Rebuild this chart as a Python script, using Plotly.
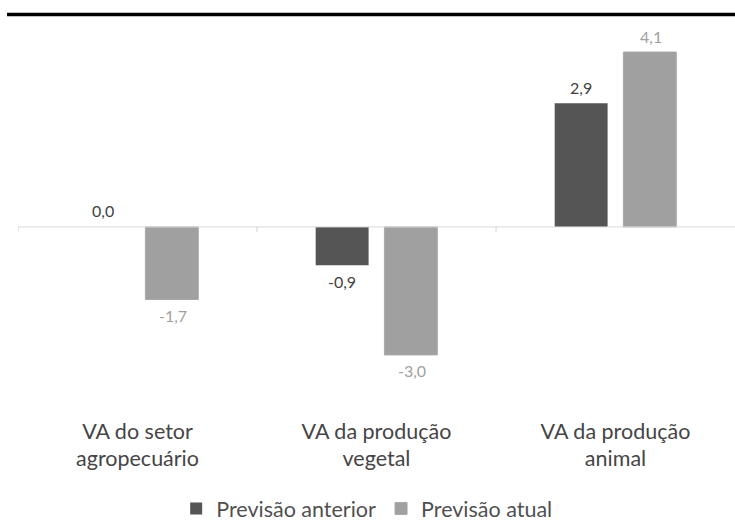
import plotly.graph_objects as go

categories = ["VA do setor<br>agropecuário", "VA da produção<br>vegetal", "VA da produção<br>animal"]
prev_anterior = [0.0, -0.9, 2.9]
prev_atual = [-1.7, -3.0, 4.1]
series_names = ["Previsão anterior", "Previsão atual"]

FONT = "Lato"
DARK = "#555555"
LIGHT = "#a0a0a0"
LABEL_COLORS = ["#404040", "#a0a0a0"]

fig = go.Figure()
fig.add_trace(go.Bar(
    x=categories, y=prev_anterior, name=series_names[0],
    marker=dict(color=DARK, line=dict(width=0)),
))
fig.add_trace(go.Bar(
    x=categories, y=prev_atual, name=series_names[1],
    marker=dict(color=LIGHT, line=dict(color="#a8a8a8", width=1)),
))

# data labels, placed at the bar ends through the data scales
annotations = []
for s_idx, (vals, xshift) in enumerate([(prev_anterior, -35), (prev_atual, 35)]):
    for cat, v in zip(categories, vals):
        annotations.append(dict(
            x=cat, y=v, xref="x", yref="y", xshift=xshift,
            yshift=16 if v >= 0 else -16, yanchor="middle", showarrow=False,
            text=f"{v:.1f}".replace(".", ","),
            font=dict(family=FONT, size=16, color=LABEL_COLORS[s_idx]),
        ))

shapes = [
    dict(type="line", xref="paper", yref="paper", x0=-0.0153, x1=1.05, y0=1.0143, y1=1.0143,
         line=dict(color="black", width=3.5)),
    dict(type="line", xref="paper", yref="y", x0=0, x1=1.05, y0=0, y1=0,
         line=dict(color="#d9d9d9", width=1)),
]
for b in [-0.5, 0.5, 1.5]:
    shapes.append(dict(type="line", xref="x", yref="y", ysizemode="pixel", yanchor=0,
                       x0=b, x1=b, y0=0, y1=-5, line=dict(color="#d0d0d0", width=1)))

fig.update_layout(
    width=735, height=529,
    margin=dict(l=18, r=0, t=20, b=125),
    paper_bgcolor="white", plot_bgcolor="white",
    separators=",.",
    barmode="group", bargap=0.425, bargroupgap=0.23,
    font=dict(family=FONT, color="#404040"),
    showlegend=True,
    legend=dict(orientation="h", x=0.487, xanchor="center", y=-0.272, yanchor="middle",
                font=dict(family=FONT, size=21.5, color="#505050"), traceorder="normal"),
    shapes=shapes,
    annotations=annotations,
    xaxis=dict(showline=False, ticks="", showgrid=False, ticklabelstandoff=12,
               tickfont=dict(family=FONT, size=21.5, color="#454545"), range=[-0.5, 2.5]),
    yaxis=dict(range=[-4.15, 4.85], showgrid=False, showticklabels=False, ticks="",
               zeroline=False, showline=False),
)
fig.write_html(
    "out.html",
    config={"displayModeBar": False},
    post_script="document.body.style.margin='0';document.body.style.overflow='hidden';",
)
